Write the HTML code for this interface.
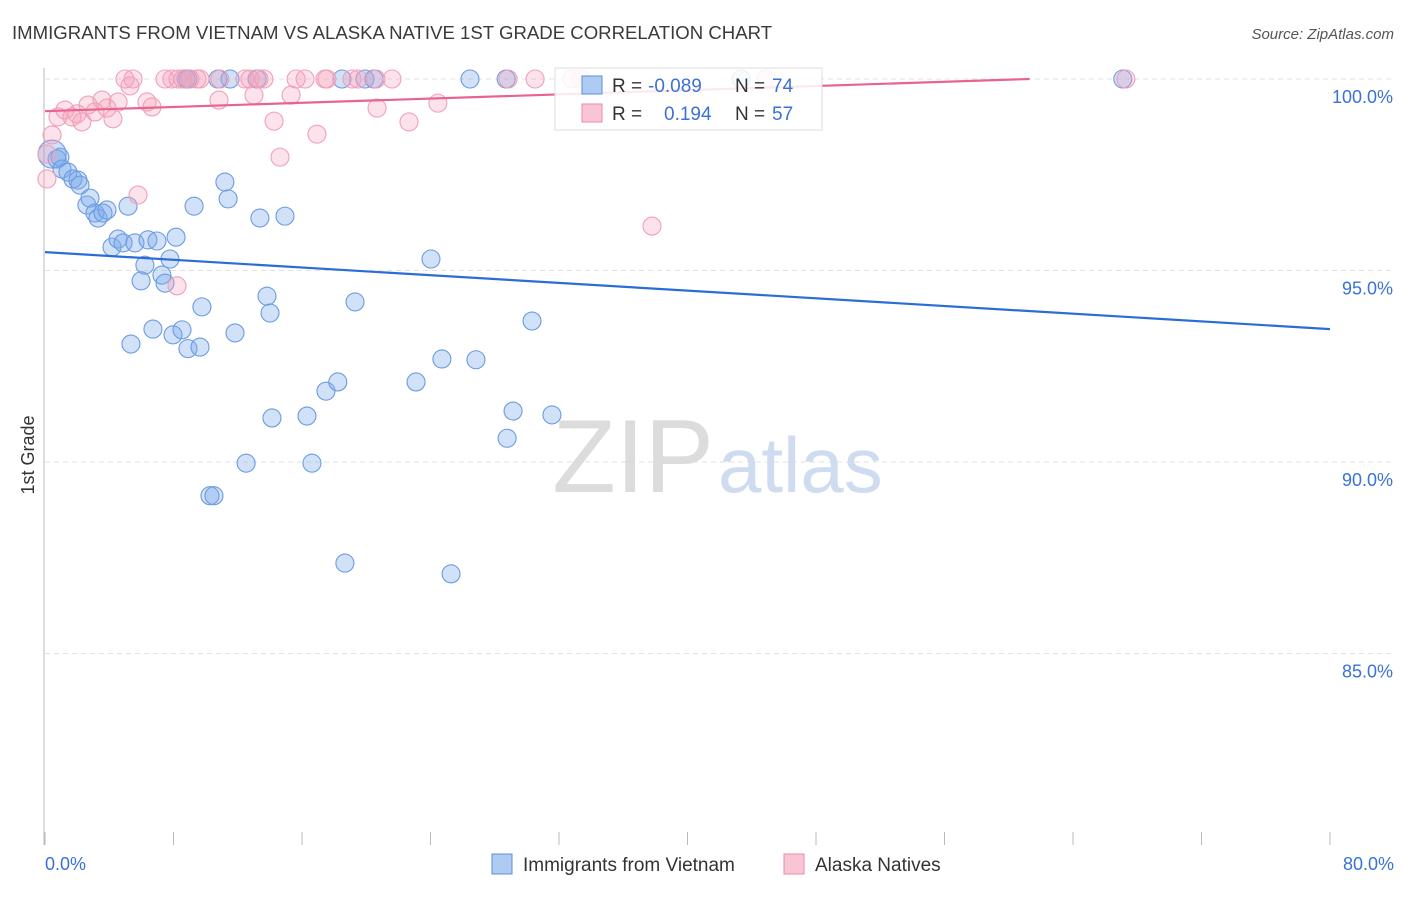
<!DOCTYPE html>
<html><head><meta charset="utf-8"><style>
body{margin:0;background:#fff;font-family:"Liberation Sans",sans-serif;}
svg text{font-family:"Liberation Sans",sans-serif;}
</style></head><body>
<svg id="chart" width="1406" height="892" viewBox="0 0 1406 892">
<text x="12" y="39" font-size="18.6" fill="#3a3a3a">IMMIGRANTS FROM VIETNAM VS ALASKA NATIVE 1ST GRADE CORRELATION CHART</text>
<text x="1394" y="39" font-size="15" fill="#555" font-style="italic" text-anchor="end">Source: ZipAtlas.com</text>
<g id="grid"></g>
<text x="714" y="492" font-size="104" font-family="Liberation Serif" fill="#dcdcdc" text-anchor="end">ZIP</text>
<text x="718" y="492" font-size="78" fill="#cfdcf0">atlas</text>
<line x1="44" y1="68" x2="44" y2="845" stroke="#bbb"/>
<text transform="translate(34,455) rotate(-90)" font-size="18" fill="#333" text-anchor="middle">1st Grade</text>
<g id="ticks"></g>
<g id="pts"></g>
<g id="trends"></g>
<g>
<rect x="555" y="68" width="267" height="62" fill="rgba(255,255,255,0.85)" stroke="#ddd"/>
<rect x="582" y="76" width="20" height="18" fill="#aecbf2" stroke="#5b8fd8"/>
<rect x="582" y="104" width="20" height="18" fill="#f9c5d4" stroke="#eb8aa8"/>
<text x="612" y="92" font-size="19" fill="#333">R = </text><text x="648" y="92" font-size="19" fill="#3a72d6">-0.089</text>
<text x="735" y="92" font-size="19" fill="#333">N = </text><text x="772" y="92" font-size="19" fill="#3a72d6">74</text>
<text x="612" y="120" font-size="19" fill="#333">R = </text><text x="664" y="120" font-size="19" fill="#3a72d6">0.194</text>
<text x="735" y="120" font-size="19" fill="#333">N = </text><text x="772" y="120" font-size="19" fill="#3a72d6">57</text>
</g>
<g>
<rect x="492" y="854" width="20" height="20" fill="#aecbf2" stroke="#5b8fd8"/>
<text x="523" y="871" font-size="19" fill="#333">Immigrants from Vietnam</text>
<rect x="784" y="854" width="20" height="20" fill="#f9c5d4" stroke="#eb8aa8"/>
<text x="815" y="871" font-size="19" fill="#333">Alaska Natives</text>
</g>
</svg>
<script>
const xTickVals=[0,8,16,24,32,40,48,56,64,72,80];
const yTickVals=[100,95,90,85];
const yTickLabels=["100.0%","95.0%","90.0%","85.0%"];
const xEndLabels=["0.0%","80.0%"];
const blueX=[0.44,0.75,0.93,1.06,1.43,1.74,2.05,2.18,2.61,2.80,3.11,3.30,3.61,3.86,4.17,4.55,4.86,5.17,5.60,6.22,6.41,6.97,7.28,7.47,7.78,8.16,5.98,5.35,6.72,7.97,8.53,8.90,9.65,9.77,9.28,11.2,11.4,11.83,12.52,13.38,13.82,14.01,14.13,14.94,16.31,16.62,17.49,18.23,18.67,19.30,23.1,24.03,24.71,25.28,26.83,28.77,29.14,30.32,31.56,10.27,10.52,10.77,11.52,13.2,8.78,18.49,19.92,20.48,26.46,28.71,43.33,67.1,8.9];
const blueY=[98.04,97.91,97.96,97.65,97.57,97.39,97.36,97.23,96.71,96.89,96.50,96.37,96.50,96.58,95.61,95.82,95.72,96.68,95.72,95.14,95.80,95.77,94.88,94.67,95.30,95.87,94.73,93.08,93.47,93.32,93.45,92.96,93.00,94.05,96.68,97.31,96.87,93.37,89.97,96.37,94.33,93.89,91.15,96.42,91.20,89.97,91.85,92.09,87.36,94.18,92.09,95.30,92.69,87.08,92.67,90.62,91.33,93.68,91.23,89.12,89.12,100,100,100,100,100,100,100,100,100,100,100,100];
const pinkX=[0.12,0.44,0.81,1.24,1.68,1.99,2.30,2.68,3.11,3.55,3.86,4.23,4.55,4.98,5.29,5.48,6.35,6.66,7.47,7.90,8.28,8.59,9.03,9.46,10.89,10.83,12.76,13.01,13.32,13.63,14.26,14.63,15.32,15.63,16.19,16.93,17.55,19.11,19.49,20.61,20.67,21.60,22.66,24.46,28.83,30.51,32.81,33.37,37.79,8.22,5.79,0.12,67.29,44.88,12.45,9.65,17.43];
const pinkY=[97.39,98.54,99.01,99.19,99.01,99.09,98.88,99.32,99.14,99.45,99.24,98.96,99.40,100,99.82,100,99.40,99.27,100,100,100,100,100,100,100,99.45,100,99.58,100,100,98.90,97.96,99.58,100,100,98.56,100,100,100,100,99.24,100,98.88,99.37,100,100,100,100,96.16,94.60,96.97,98.04,100,100,100,100,100];
const trendBlue=[[0,95.48],[80,93.47]];
const trendPink=[[0,99.16],[61.3,100]];
const X0=45,X1=1330,Y0=79,Y1=845;
const sx=v=>X0+(v/80)*(X1-X0);
const sy=v=>Y0+(100-v)/20*(Y1-Y0);
const NS="http://www.w3.org/2000/svg";
function mk(tag,attrs,parent){const e=document.createElementNS(NS,tag);for(const k in attrs)e.setAttribute(k,attrs[k]);document.getElementById(parent).appendChild(e);return e;}
yTickVals.forEach((v,i)=>{
 const l=mk('line',{x1:45,x2:1394,y1:sy(v),y2:sy(v),stroke:'#e2e2e2','stroke-dasharray':'5,4'},'grid');
 
 
 const t=mk('text',{x:1393,y:sy(v)+24,'font-size':18,fill:'#3a72d6','text-anchor':'end'},'grid');
 t.textContent=yTickLabels[i];
 
 
});
xTickVals.forEach(v=>{
 const l=mk('line',{x1:sx(v),x2:sx(v),y1:832,y2:845,stroke:'#bbb'},'ticks');
 
 
});
[[0,'start',45],[80,'end',1394]].forEach((a,i)=>{
 const t=mk('text',{x:a[2],y:870,'font-size':18,fill:'#3a72d6','text-anchor':a[1]},'ticks');
 t.textContent=xEndLabels[i];
 
 
});
blueX.forEach((x,i)=>{
 const c=mk('circle',{cx:sx(x),cy:sy(blueY[i]),r:i==0?14:9,fill:'rgba(120,168,235,0.35)',stroke:'#6c9be0','stroke-width':1.1},'pts');
 
 
});
pinkX.forEach((x,i)=>{
 const c=mk('circle',{cx:sx(x),cy:sy(pinkY[i]),r:9,fill:'rgba(245,160,185,0.3)',stroke:'#f0a0b8','stroke-width':1.1},'pts');
 
 
});
const tb=mk('line',{x1:sx(trendBlue[0][0]),y1:sy(trendBlue[0][1]),x2:sx(trendBlue[1][0]),y2:sy(trendBlue[1][1]),stroke:'#2a6dd8','stroke-width':2.2},'trends');


const tp=mk('line',{x1:sx(trendPink[0][0]),y1:sy(trendPink[0][1]),x2:sx(trendPink[1][0]),y2:sy(trendPink[1][1]),stroke:'#e8648e','stroke-width':2.2},'trends');


</script>
</body></html>
